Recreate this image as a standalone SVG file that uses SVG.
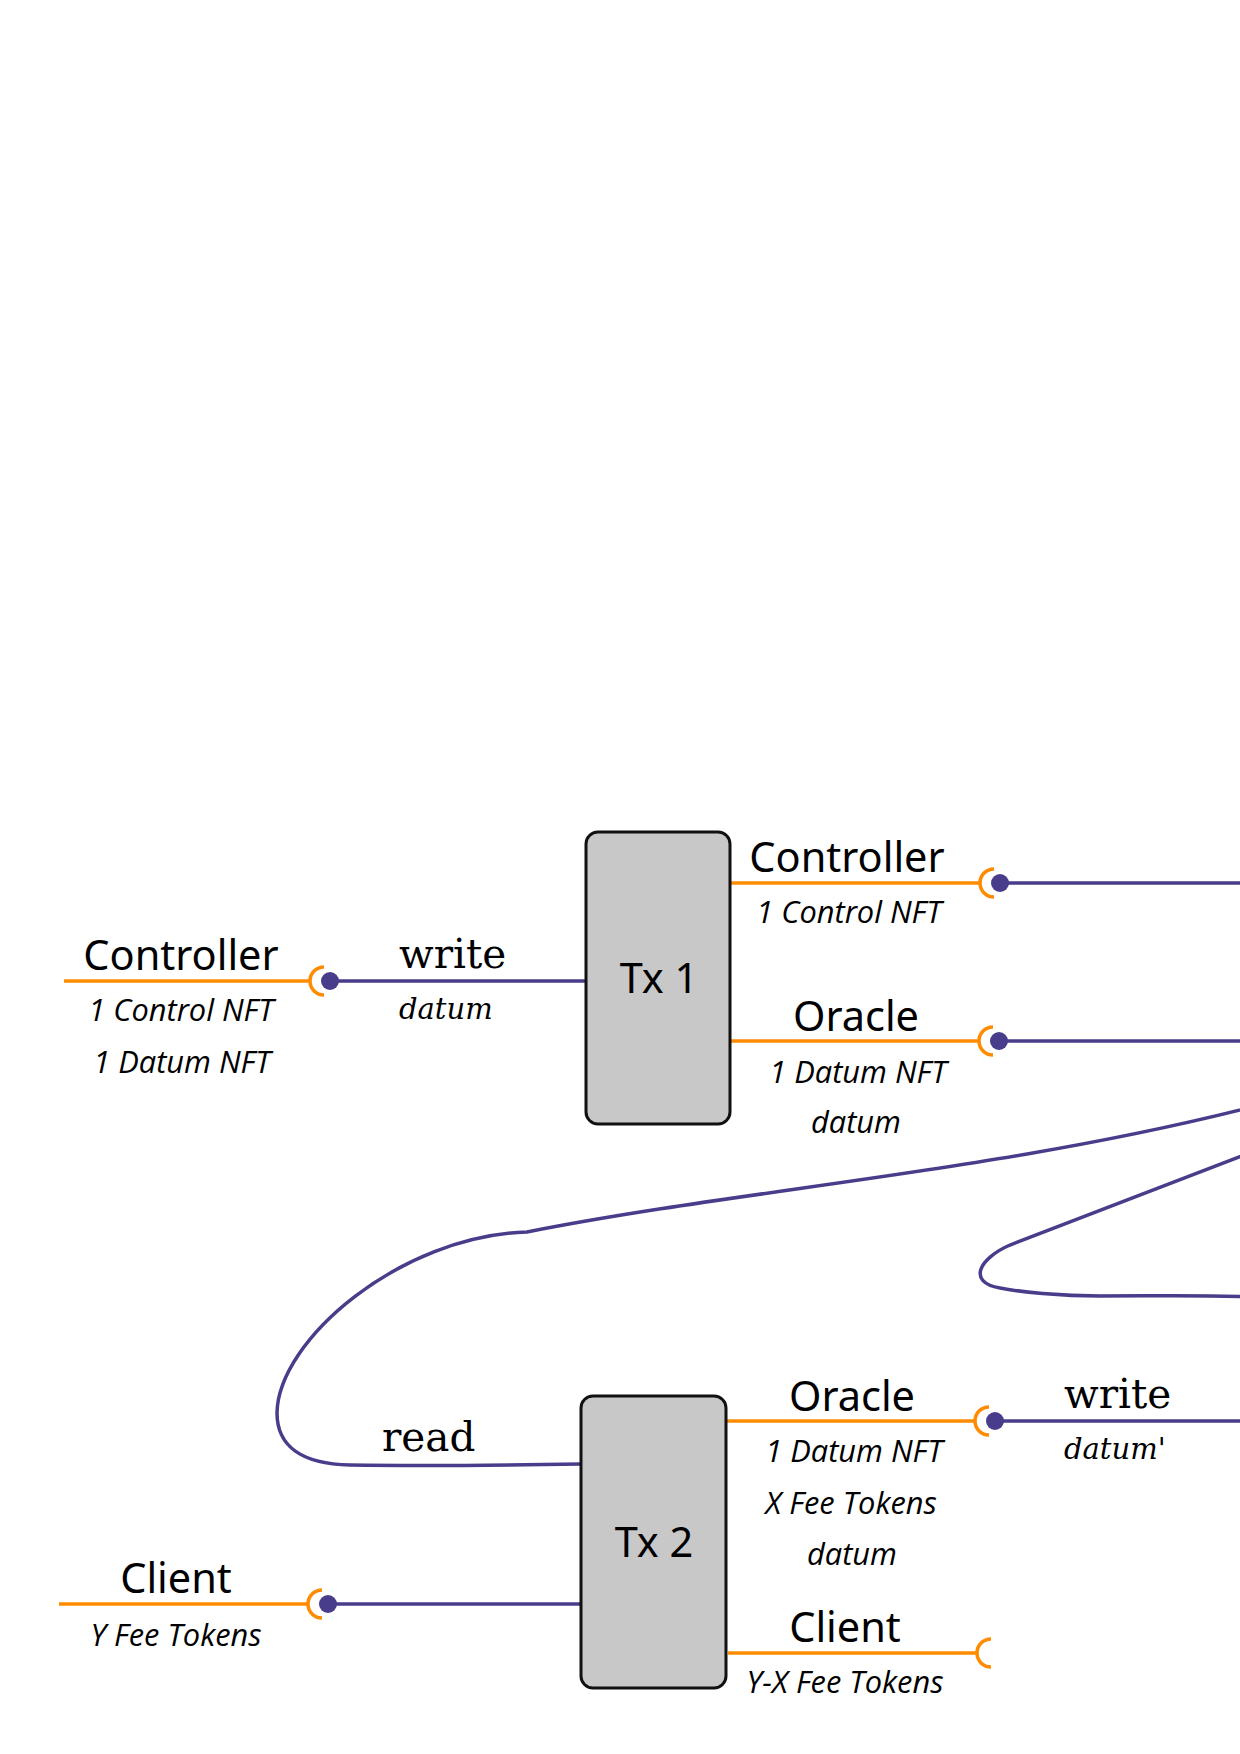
<svg xmlns="http://www.w3.org/2000/svg" width="1240" height="1754" viewBox="0 0 1240 1754">
<defs>
<style>
.bg{fill:#ffffff}
.box{fill:#c8c8c8;stroke:#111111;stroke-width:3}
.out{fill:none;stroke:#ff8c00;stroke-width:3.5}
.in{fill:none;stroke:#483d8b;stroke-width:3.5}
.dot{fill:#483d8b}
.lbl{font-family:"Noto Sans","Open Sans","DejaVu Sans",sans-serif;font-size:41.5px;fill:#000;text-anchor:middle}
.sub{font-family:"Open Sans","Noto Sans","DejaVu Sans",sans-serif;font-size:30.8px;font-style:italic;fill:#000;text-anchor:middle}
.act{font-family:"DejaVu Serif","Liberation Serif",serif;font-size:40.5px;fill:#000}
.actsub{font-family:"DejaVu Serif","Liberation Serif",serif;font-size:29px;font-style:italic;fill:#000}
</style>
<g id="socket"><path class="out" d="M -6 -14 A 14 14 0 0 0 -6 14"/><circle class="dot" cx="0" cy="0" r="9"/></g>
<g id="cup"><path class="out" d="M -6 -14 A 14 14 0 0 0 -6 14"/></g>
</defs>
<rect class="bg" x="0" y="0" width="1240" height="1754"/>

<g id="connectors">
<path class="out" d="M 64 981 L 310 981"/>
<path class="in" d="M 330 981 L 586 981"/>
<path class="out" d="M 730 883 L 980 883"/>
<path class="in" d="M 1000 883 L 1245 883"/>
<path class="out" d="M 730 1041 L 979 1041"/>
<path class="in" d="M 999 1041 L 1245 1041"/>
<path class="out" d="M 726 1421 L 975 1421"/>
<path class="in" d="M 995 1421 L 1245 1421"/>
<path class="out" d="M 728 1653 L 977 1653"/>
<path class="out" d="M 59 1604 L 308 1604"/>
<path class="in" d="M 328 1604 L 581 1604"/>
<path id="read" class="in" d="M 581 1464 C 520 1465, 420 1466, 350 1465 C 300 1464, 277 1445, 277 1413 C 278 1340, 400 1236, 527 1232 C 750 1188, 1000 1172, 1260 1105"/>
<path id="loop" class="in" d="M 1260 1149 L 1010 1245 C 980 1258, 966 1282, 1000 1288 C 1020 1292, 1060 1296, 1100 1296 C 1160 1296, 1210 1295, 1260 1297"/>
<use href="#socket" x="330" y="981"/>
<use href="#socket" x="1000" y="883"/>
<use href="#socket" x="999" y="1041"/>
<use href="#socket" x="995" y="1421"/>
<use href="#cup" x="997" y="1653"/>
<use href="#socket" x="328" y="1604"/>
</g>

<g id="tx1">
<rect class="box" x="586" y="832" width="144" height="292" rx="12"/>
<text class="lbl" x="659" y="993">Tx 1</text>
</g>
<g id="tx2">
<rect class="box" x="581" y="1396" width="145" height="292" rx="12"/>
<text class="lbl" x="654" y="1557">Tx 2</text>
</g>

<g id="in-controller">
<text class="lbl" x="181" y="970">Controller</text>
<text class="sub" x="181" y="1021">1 Control NFT</text>
<text class="sub" x="182" y="1073">1 Datum NFT</text>
</g>
<g id="write1">
<text class="act" x="399" y="968">write</text>
<text class="actsub" x="399" y="1019">datum</text>
</g>
<g id="out-controller">
<text class="lbl" x="847" y="872">Controller</text>
<text class="sub" x="849" y="923">1 Control NFT</text>
</g>
<g id="out-oracle1">
<text class="lbl" x="856" y="1031">Oracle</text>
<text class="sub" x="858" y="1083">1 Datum NFT</text>
<text class="sub" x="856" y="1133">datum</text>
</g>
<g id="read-label">
<text class="act" x="382" y="1451">read</text>
</g>
<g id="out-oracle2">
<text class="lbl" x="852" y="1411">Oracle</text>
<text class="sub" x="854" y="1462">1 Datum NFT</text>
<text class="sub" x="851" y="1514">X Fee Tokens</text>
<text class="sub" x="852" y="1565">datum</text>
</g>
<g id="write2">
<text class="act" x="1064" y="1408">write</text>
<text class="actsub" x="1064" y="1459">datum'</text>
</g>
<g id="out-client">
<text class="lbl" x="845" y="1642">Client</text>
<text class="sub" x="845" y="1693">Y-X Fee Tokens</text>
</g>
<g id="in-client">
<text class="lbl" x="176" y="1593">Client</text>
<text class="sub" x="176" y="1646">Y Fee Tokens</text>
</g>
</svg>
